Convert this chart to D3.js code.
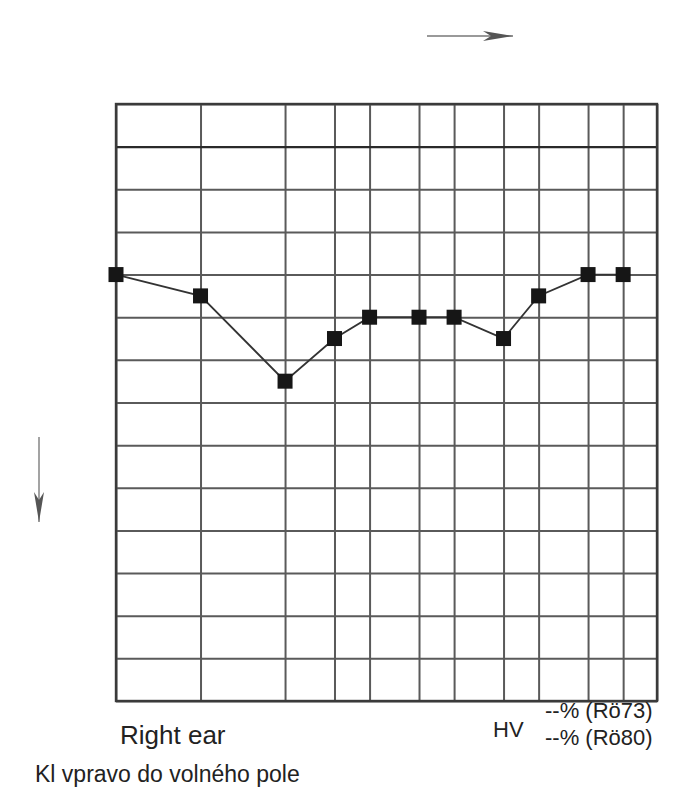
<!DOCTYPE html>
<html>
<head>
<meta charset="utf-8">
<script src="https://cdn.jsdelivr.net/npm/d3@7"></script>
<style>
  body { margin: 0; background: #fff; }
  svg { display: block; font-family: "Liberation Sans", Arial, sans-serif; }
</style>
</head>
<body>
<div id="audiogram"></div>
<script>
//audiogram data, right ear, free field
var freqs = [125, 250, 500, 750, 1000, 1500, 2000, 3000, 4000, 6000, 8000];
var thresholds = [30, 35, 55, 45, 40, 40, 40, 45, 35, 30, 30];

//grid lines (frequency columns and dB rows)
var gridFreqs = [125, 250, 500, 750, 1000, 1500, 2000, 3000, 4000, 6000, 8000, 10560];
var dbTicks = [-10, 0, 10, 20, 30, 40, 50, 60, 70, 80, 90, 100, 110, 120, 130];

var width = 694, height = 800;
var plot = {l: 116, r: 657, t: 104, b: 701};

var svg = d3.select('#audiogram')
    .append('svg')
    .attr('width', width)
    .attr('height', height);

var x = d3.scaleLog().domain([125, 10560]).range([plot.l, plot.r]);
var y = d3.scaleLinear().domain([-10, 130]).range([plot.t, plot.b]);

//vertical grid
var xGrid = svg.append('g')
    .attr('transform', 'translate(0,' + plot.t + ')')
    .call(d3.axisTop(x)
        .tickValues(gridFreqs)
        .tickSize(-(plot.b - plot.t))
        .tickFormat(''));
xGrid.select('.domain').remove();
xGrid.selectAll('line').attr('stroke', '#5a5a5a').attr('stroke-width', 2);

//horizontal grid
var yGrid = svg.append('g')
    .attr('transform', 'translate(' + plot.l + ',0)')
    .call(d3.axisLeft(y)
        .tickValues(dbTicks)
        .tickSize(-(plot.r - plot.l))
        .tickFormat(''));
yGrid.select('.domain').remove();
yGrid.selectAll('line')
    .attr('stroke', function (d) { return d === 0 ? '#2a2a2a' : '#5a5a5a'; })
    .attr('stroke-width', function (d) { return d === 0 ? 2.4 : 2; });

//frame
svg.append('rect')
    .attr('x', plot.l)
    .attr('y', plot.t)
    .attr('width', plot.r - plot.l)
    .attr('height', plot.b - plot.t)
    .attr('fill', 'none')
    .attr('stroke', '#3a3a3a')
    .attr('stroke-width', 2.4);

//threshold line + markers
var pts = freqs.map(function (f, i) { return {f: f, db: thresholds[i]}; });

svg.append('path')
    .datum(pts)
    .attr('fill', 'none')
    .attr('stroke', '#333')
    .attr('stroke-width', 1.8)
    .attr('d', d3.line()
        .x(function (d) { return x(d.f); })
        .y(function (d) { return y(d.db); }));

var m = 15;
svg.selectAll('.marker')
    .data(pts)
    .enter()
    .append('rect')
    .attr('class', 'marker')
    .attr('x', function (d) { return x(d.f) - m / 2; })
    .attr('y', function (d) { return y(d.db) - m / 2; })
    .attr('width', m)
    .attr('height', m)
    .attr('fill', '#161616');

//arrows
var defs = svg.append('defs');
defs.append('marker')
    .attr('id', 'head')
    .attr('viewBox', '0 0 30 12')
    .attr('refX', 30)
    .attr('refY', 6)
    .attr('markerWidth', 30)
    .attr('markerHeight', 12)
    .attr('markerUnits', 'userSpaceOnUse')
    .attr('orient', 'auto')
    .append('path')
    .attr('d', 'M0,1 L30,6 L0,11 L8,6 Z')
    .attr('fill', '#555');

svg.append('line')
    .attr('x1', 427).attr('y1', 36)
    .attr('x2', 513).attr('y2', 36)
    .attr('stroke', '#999')
    .attr('stroke-width', 1.8)
    .attr('marker-end', 'url(#head)');

svg.append('line')
    .attr('x1', 39).attr('y1', 437)
    .attr('x2', 39).attr('y2', 522)
    .attr('stroke', '#999')
    .attr('stroke-width', 1.8)
    .attr('marker-end', 'url(#head)');

//labels
svg.append('text')
    .attr('x', 120).attr('y', 744)
    .attr('font-size', '26px')
    .attr('fill', '#222')
    .text('Right ear');

svg.append('text')
    .attr('x', 493).attr('y', 737)
    .attr('font-size', '22px')
    .attr('fill', '#222')
    .text('HV');

svg.append('text')
    .attr('x', 545).attr('y', 718)
    .attr('font-size', '22px')
    .attr('fill', '#222')
    .text('--% (Rö73)');

svg.append('text')
    .attr('x', 545).attr('y', 745)
    .attr('font-size', '22px')
    .attr('fill', '#222')
    .text('--% (Rö80)');

svg.append('text')
    .attr('x', 35).attr('y', 782)
    .attr('font-size', '23px')
    .attr('fill', '#222')
    .text('Kl vpravo do volného pole');
</script>
</body>
</html>
